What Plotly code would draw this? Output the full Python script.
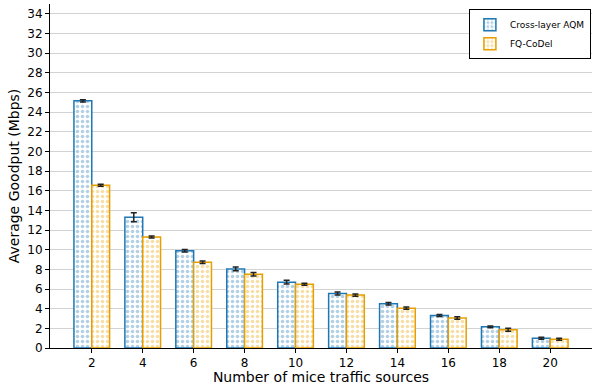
import plotly.graph_objects as go

categories = ["2", "4", "6", "8", "10", "12", "14", "16", "18", "20"]
aqm_values = [25.15, 13.3, 9.9, 8.05, 6.7, 5.55, 4.5, 3.3, 2.15, 1.0]
aqm_errors = [0.12, 0.45, 0.12, 0.2, 0.2, 0.15, 0.12, 0.1, 0.1, 0.1]
codel_values = [16.55, 11.3, 8.72, 7.5, 6.48, 5.38, 4.05, 3.05, 1.85, 0.9]
codel_errors = [0.1, 0.1, 0.12, 0.18, 0.1, 0.12, 0.12, 0.12, 0.15, 0.1]
y_ticks = list(range(0, 36, 2))

BLUE = "#1f77b4"
ORANGE = "#E69F00"
FONT = "DejaVu Sans"

fig = go.Figure()
fig.add_trace(go.Bar(
    x=categories, y=aqm_values, name="Cross-layer AQM",
    marker=dict(color="white", line=dict(color=BLUE, width=1.5),
                pattern=dict(shape=".", fgcolor=BLUE, fgopacity=0.35, size=5, solidity=0.4, bgcolor="white")),
    error_y=dict(type="data", array=aqm_errors, color="#222222", thickness=1.5, width=3),
))
fig.add_trace(go.Bar(
    x=categories, y=codel_values, name="FQ-CoDel",
    marker=dict(color="white", line=dict(color=ORANGE, width=1.5),
                pattern=dict(shape=".", fgcolor=ORANGE, fgopacity=0.35, size=5, solidity=0.4, bgcolor="white")),
    error_y=dict(type="data", array=codel_errors, color="#222222", thickness=1.5, width=3),
))

fig.update_layout(
    width=599, height=385,
    margin=dict(l=50, r=7, t=4, b=37),
    paper_bgcolor="white", plot_bgcolor="white",
    barmode="group", bargap=0.3, bargroupgap=0,
    font=dict(family=FONT, size=12, color="black"),
    legend=dict(x=0.998, y=0.985, xanchor="right", yanchor="top",
                bordercolor="black", borderwidth=1, bgcolor="white",
                font=dict(size=9, family=FONT), tracegroupgap=0,
                itemwidth=30),
    xaxis=dict(
        type="category", range=[-0.82, 9.82], automargin=False,
        showline=True, linecolor="black", linewidth=1,
        ticks="outside", ticklen=4, tickcolor="black",
        showgrid=False, tickfont=dict(size=12),
        title=dict(text="Number of mice traffic sources", font=dict(size=14), standoff=2),
    ),
    yaxis=dict(
        range=[0, 35], tickvals=y_ticks, automargin=False,
        showline=True, linecolor="black", linewidth=1,
        ticks="outside", ticklen=4, tickcolor="black",
        showgrid=True, gridcolor="#d3d3d3", gridwidth=1,
        zeroline=False, tickfont=dict(size=12),
        title=dict(text="Average Goodput (Mbps)", font=dict(size=14), standoff=4),
    ),
)

fig.write_html("out.html", config={"displayModeBar": False},
               post_script="document.body.style.margin='0';document.body.style.overflow='hidden';")
